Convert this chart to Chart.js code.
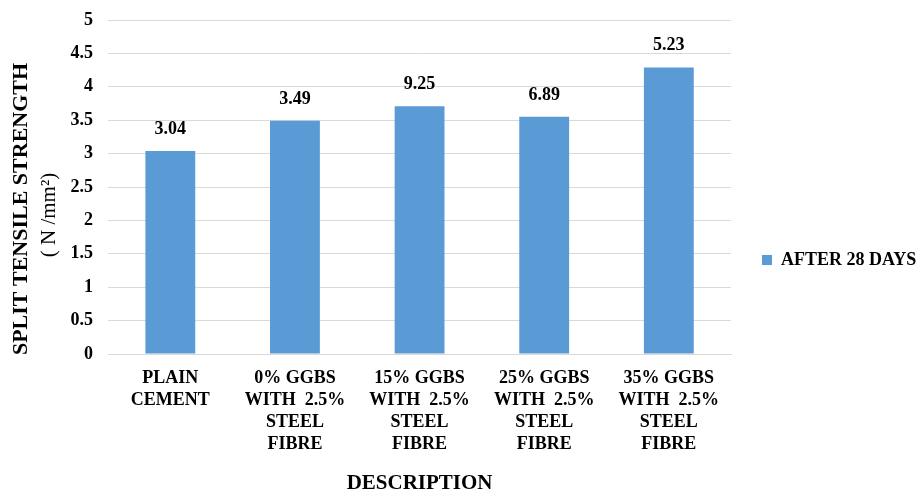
<!DOCTYPE html>
<html>
<head>
<meta charset="utf-8">
<script src="https://cdn.jsdelivr.net/npm/chart.js@4/dist/chart.umd.min.js"></script>
<style>
html,body{margin:0;padding:0;background:#fff;}
#wrap{width:921px;height:492px;position:relative;}
</style>
</head>
<body>
<div id="wrap"><canvas id="c" width="921" height="492"></canvas></div>
<script>
const categories = [
  ['PLAIN','CEMENT'],
  ['0% GGBS','WITH  2.5%','STEEL','FIBRE'],
  ['15% GGBS','WITH  2.5%','STEEL','FIBRE'],
  ['25% GGBS','WITH  2.5%','STEEL','FIBRE'],
  ['35% GGBS','WITH  2.5%','STEEL','FIBRE']
];
const seriesName = 'AFTER 28 DAYS';
const values = [3.04, 3.49, 3.71, 3.55, 4.29];
const dataLabels = ['3.04', '3.49', '9.25', '6.89', '5.23'];
const yTicks = [0, 0.5, 1, 1.5, 2, 2.5, 3, 3.5, 4, 4.5, 5];
const yTitle1 = 'SPLIT TENSILE STRENGTH';
const yTitle2 = '( N /mm\u00B2)';
const xTitle = 'DESCRIPTION';

const FONT = '"Liberation Serif","Times New Roman",serif';

const labelPlugin = {
  id: 'labels',
  afterDatasetsDraw(chart) {
    const ctx = chart.ctx;
    const meta = chart.getDatasetMeta(0);
    ctx.save();
    ctx.font = 'bold 18px ' + FONT;
    ctx.fillStyle = '#000';
    ctx.textAlign = 'center';
    ctx.textBaseline = 'alphabetic';
    meta.data.forEach((bar, i) => {
      ctx.fillText(dataLabels[i], bar.x, bar.y - 17);
    });
    ctx.restore();
  }
};

const yTitlePlugin = {
  id: 'ytitle',
  afterDraw(chart) {
    const ctx = chart.ctx;
    ctx.save();
    ctx.fillStyle = '#000';
    ctx.textAlign = 'center';
    ctx.textBaseline = 'middle';
    ctx.save();
    ctx.translate(21, 209);
    ctx.rotate(-Math.PI / 2);
    ctx.font = 'bold 22px ' + FONT;
    ctx.fillText(yTitle1, 0, 0);
    ctx.restore();
    ctx.save();
    ctx.translate(49, 215);
    ctx.rotate(-Math.PI / 2);
    ctx.font = '21px ' + FONT;
    ctx.fillText(yTitle2, 0, 0);
    ctx.restore();
    ctx.restore();
  }
};

const legendShift = {
  id: 'legendShift',
  afterLayout(chart) {
    const lg = chart.legend;
    if (!lg) return;
    const pad = lg.options.labels.padding;
    const dx = 762 - (lg.left + pad);
    lg.left += dx; lg.right += dx;
    const dy = 4;
    lg.top += dy; lg.bottom += dy;
    if (lg.legendHitBoxes) lg.legendHitBoxes.forEach(h => { h.left += dx; h.top += dy; });
  }
};

new Chart(document.getElementById('c'), {
  type: 'bar',
  data: {
    labels: categories,
    datasets: [{
      label: seriesName,
      data: values,
      backgroundColor: '#5B9BD5',
      borderWidth: 0,
      categoryPercentage: 1,
      barPercentage: 0.4
    }]
  },
  options: {
    responsive: false,
    animation: false,
    devicePixelRatio: 1,
    layout: { padding: { top: 20, left: 0, right: 0, bottom: 0 } },
    plugins: {
      legend: {
        position: 'right',
        labels: {
          boxWidth: 10,
          boxHeight: 10,
          color: '#000',
          font: { family: FONT, size: 18, weight: 'bold' },
          padding: 25.5
        }
      },
      tooltip: { enabled: false }
    },
    scales: {
      x: {
        afterFit(scale) { scale.height = 138; },
        grid: { display: false, drawTicks: false },
        border: { display: true, color: '#d9d9d9', width: 1 },
        ticks: {
          color: '#000',
          font: { family: FONT, size: 18, weight: 'bold', lineHeight: 1.22 },
          maxRotation: 0,
          autoSkip: false,
          padding: 13
        },
        title: {
          display: true,
          text: xTitle,
          color: '#000',
          font: { family: FONT, size: 21, weight: 'bold' },
          padding: { top: 0, bottom: -4 }
        }
      },
      y: {
        min: 0,
        max: 5,
        afterBuildTicks(scale) {
          scale.ticks = yTicks.map(v => ({ value: v }));
        },
        afterFit(scale) { scale.width = 108; scale.paddingTop = 0; scale.paddingBottom = 0; },
        grid: { color: '#d9d9d9', lineWidth: 1, drawTicks: false },
        border: { display: false },
        ticks: {
          color: '#000',
          font: { family: FONT, size: 18, weight: 'bold' },
          padding: 15,
          callback: v => String(v)
        }
      }
    }
  },
  plugins: [labelPlugin, yTitlePlugin, legendShift]
});
</script>
</body>
</html>
